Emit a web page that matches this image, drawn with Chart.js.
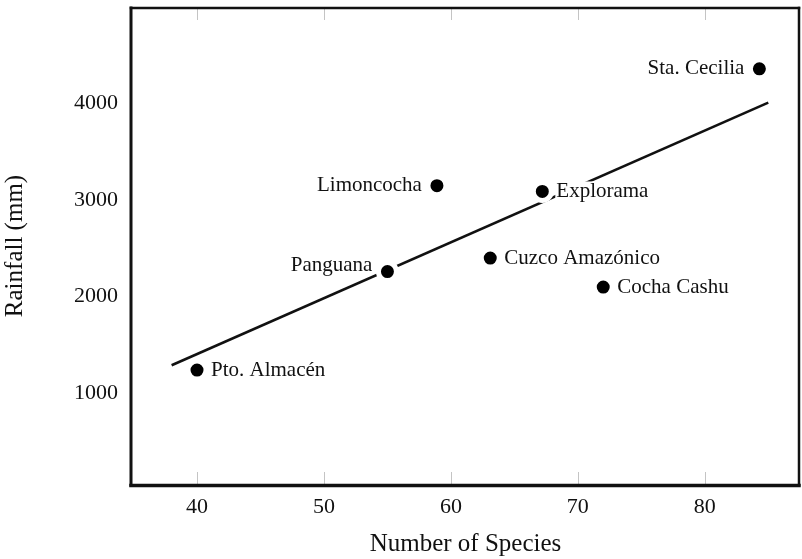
<!DOCTYPE html>
<html>
<head>
<meta charset="utf-8">
<title>Rainfall vs Number of Species</title>
<script src="https://cdn.jsdelivr.net/npm/chart.js@4.4.0/dist/chart.umd.min.js"></script>
<style>
    html, body { margin: 0; padding: 0; background: #fff; }
    #wrap { width: 802px; height: 559px; }
</style>
</head>
<body>
<div id="wrap"><canvas id="chart" width="802" height="559"></canvas></div>
<script>
// sites
const siteNames = ['Pto. Almacén', 'Panguana', 'Limoncocha', 'Explorama', 'Cuzco Amazónico', 'Cocha Cashu', 'Sta. Cecilia'];
const speciesCount = [40, 55, 58.9, 67.2, 63.1, 72, 84.3];
const rainfallMm = [1240, 2260, 3150, 3090, 2400, 2100, 4360];

// ends of the regression line
const fitSpecies = [38, 85];
const fitRainfall = [1290, 4010];

const xTicks = [40, 50, 60, 70, 80];
const yTicks = [1000, 2000, 3000, 4000];

// where each name sits next to its dot
const labelSide = ['right', 'left', 'left', 'right', 'right', 'right', 'left'];
const labelLift = [0, 6, 0, 0, 0, 0, 0];

const serif = '"Liberation Serif", "Times New Roman", serif';
const ink = '#111';

// box round the plot + the faint inward ticks
const framePlugin = {
    id: 'frame',
    beforeDatasetsDraw(chart) {
        const { ctx, chartArea: a } = chart;
        const xs = chart.scales.x;
        ctx.save();
        ctx.strokeStyle = '#c4c4c4';
        ctx.lineWidth = 1;
        xTicks.forEach(v => {
            const px = Math.round(xs.getPixelForValue(v)) + 0.5;
            ctx.beginPath();
            ctx.moveTo(px, a.top);
            ctx.lineTo(px, a.top + 13);
            ctx.moveTo(px, a.bottom);
            ctx.lineTo(px, a.bottom - 13);
            ctx.stroke();
        });
        ctx.strokeStyle = ink;
        ctx.lineCap = 'square';
        const side = (x1, y1, x2, y2, w) => {
            ctx.lineWidth = w;
            ctx.beginPath();
            ctx.moveTo(x1, y1);
            ctx.lineTo(x2, y2);
            ctx.stroke();
        };
        side(a.left, a.top + 1, a.right - 1, a.top + 1, 2.5);
        side(a.right - 1, a.top + 1, a.right - 1, a.bottom, 2.5);
        side(a.left, a.top + 1, a.left, a.bottom, 3);
        side(a.left, a.bottom + 0.5, a.right - 1, a.bottom + 0.5, 3.5);
        ctx.restore();
    }
};

// site names beside the dots, with a white backing so the line breaks under them
const labelPlugin = {
    id: 'siteLabels',
    afterDatasetsDraw(chart) {
        const ctx = chart.ctx;
        const meta = chart.getDatasetMeta(0);
        ctx.save();
        ctx.font = '21px ' + serif;
        ctx.textBaseline = 'middle';
        ctx.textAlign = 'left';
        meta.data.forEach((pt, i) => {
            const name = siteNames[i];
            const w = ctx.measureText(name).width;
            const y = pt.y - labelLift[i];
            const x = labelSide[i] === 'right' ? pt.x + 14 : pt.x - 15 - w;
            ctx.fillStyle = '#fff';
            ctx.fillRect(x - 1, y - 10, w + 2, 19);
            ctx.fillStyle = ink;
            ctx.fillText(name, x, y);
        });
        ctx.restore();
    }
};

// keep the axes from asking for extra room round the plot
function noEdgePadding(s) {
    s.paddingTop = 0;
    s.paddingBottom = 0;
    s.paddingLeft = 0;
    s.paddingRight = 0;
}

function drawChart() {
    Chart.defaults.font.family = serif;
    Chart.defaults.color = ink;

    const points = speciesCount.map((s, i) => ({ x: s, y: rainfallMm[i] }));
    const fitLine = fitSpecies.map((s, i) => ({ x: s, y: fitRainfall[i] }));

    const ctx = document.getElementById('chart').getContext('2d');
    new Chart(ctx, {
        type: 'scatter',
        data: {
            datasets: [{
                label: 'Sites',
                data: points,
                order: 1,
                backgroundColor: '#000',
                borderColor: '#fff',
                borderWidth: 5,
                pointRadius: 9,
                pointHoverRadius: 9
            }, {
                label: 'Fit',
                data: fitLine,
                order: 2,
                showLine: true,
                borderColor: ink,
                borderWidth: 2.6,
                pointRadius: 0
            }]
        },
        options: {
            responsive: false,
            animation: false,
            layout: {
                autoPadding: false,
                padding: { top: 7, right: 2, left: 0, bottom: 0 }
            },
            plugins: {
                legend: { display: false },
                tooltip: { enabled: false }
            },
            scales: {
                x: {
                    type: 'linear',
                    min: 34.8,
                    max: 87.5,
                    grid: { display: false, drawTicks: false },
                    border: { display: false },
                    afterBuildTicks: s => { s.ticks = xTicks.map(v => ({ value: v })); },
                    afterFit: s => { s.height = 74; noEdgePadding(s); },
                    ticks: {
                        padding: 9,
                        maxRotation: 0,
                        color: ink,
                        font: { size: 22 },
                        callback: v => String(v)
                    },
                    title: {
                        display: true,
                        text: 'Number of Species',
                        color: ink,
                        font: { size: 25 },
                        padding: 0
                    }
                },
                y: {
                    type: 'linear',
                    min: 50,
                    max: 5000,
                    grid: { display: false, drawTicks: false },
                    border: { display: false },
                    afterBuildTicks: s => { s.ticks = yTicks.map(v => ({ value: v })); },
                    afterFit: s => { s.width = 131; noEdgePadding(s); },
                    ticks: {
                        padding: 13,
                        color: ink,
                        font: { size: 22 },
                        callback: v => String(v)
                    },
                    title: {
                        display: true,
                        text: 'Rainfall (mm)',
                        color: ink,
                        font: { size: 25 },
                        padding: 0
                    }
                }
            }
        },
        plugins: [framePlugin, labelPlugin]
    });
}

window.addEventListener('load', drawChart);
</script>
</body>
</html>
